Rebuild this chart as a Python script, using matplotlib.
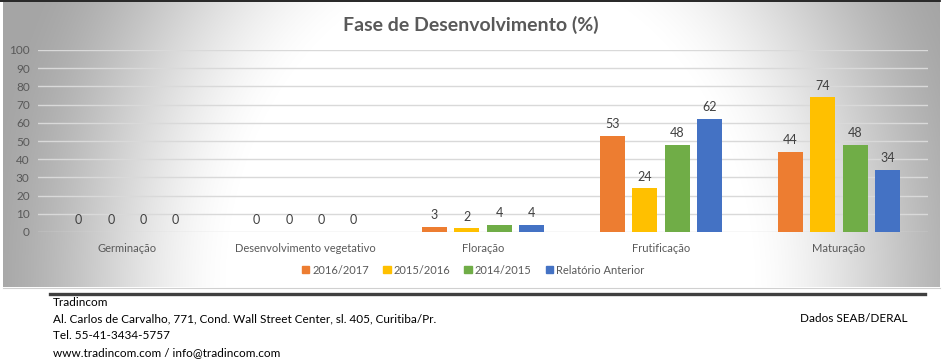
import numpy as np
import matplotlib
matplotlib.use("Agg")
from matplotlib import pyplot as plt
from matplotlib.lines import Line2D

plt.rcParams['font.family'] = ['Lato', 'DejaVu Sans']

categories = ["Germinação", "Desenvolvimento vegetativo", "Floração",
              "Frutificação", "Maturação"]
series_names = ["2016/2017", "2015/2016", "2014/2015", "Relatório Anterior"]
values_1617 = [0, 0, 3, 53, 44]
values_1516 = [0, 0, 2, 24, 74]
values_1415 = [0, 0, 4, 48, 48]
values_anterior = [0, 0, 4, 62, 34]
colors = ["#ED7D31", "#FFC000", "#70AD47", "#4472C4"]
yticks = [0, 10, 20, 30, 40, 50, 60, 70, 80, 90, 100]

W, H = 952, 364
fig = plt.figure(figsize=(W / 100, H / 100), dpi=100)
fig.patch.set_facecolor("white")


def px(x0, y0, x1, y1):
    # pixel box (top-left origin) -> figure fraction rect
    return [x0 / W, 1 - y1 / H, (x1 - x0) / W, (y1 - y0) / H]


# gradient panel behind the chart (row 0 = top)
bg = fig.add_axes(px(3, 2, 940, 287), zorder=0)
gx, gy = np.meshgrid(np.arange(3, 940), np.arange(2, 287))
d = np.sqrt(((gx - 490) / 265.0) ** 2 + ((gy - 287) / 324.0) ** 2)
t = np.clip((d - 1.0) / 0.9, 0, 1)
shade = 1 - 0.35 * (0.6 * t * t * (3 - 2 * t) + 0.4 * t)
bg.imshow(np.dstack([shade] * 3), aspect="auto", origin="upper")
bg.set_axis_off()

# top border line
fig.add_artist(Line2D([0, 940 / W], [1 - 1 / H, 1 - 1 / H], color="black", lw=1.2))
fig.add_artist(Line2D([3 / W, 940 / W], [1 - 287.5 / H, 1 - 287.5 / H],
                      color="#D0D0D0", lw=0.8))

ax = fig.add_axes(px(38, 50, 928, 232), zorder=1)
ax.patch.set_alpha(0)

all_series = [values_1617, values_1516, values_1415, values_anterior]
x = np.arange(len(categories))
pitch = 0.1815
width = 0.14
for i, (name, vals, c) in enumerate(zip(series_names, all_series, colors)):
    pos = x + (i - 1.5) * pitch
    bars = ax.bar(pos, vals, width=width, color=c, label=name, zorder=3)
    for b, v in zip(bars, vals):
        ax.annotate(str(v), (b.get_x() + b.get_width() / 2, v),
                    xytext=(0, 8.5), textcoords="offset points",
                    ha="center", va="center", fontsize=9, color="#404040")

ax.set_xlim(-0.5, len(categories) - 0.5)
ax.set_ylim(0, 100)
ax.set_yticks(yticks)
ax.set_xticks(x)
ax.set_xticklabels(categories)
ax.yaxis.grid(True, color="#D9D9D9", lw=1)
ax.set_axisbelow(True)
for s in ax.spines.values():
    s.set_visible(False)
ax.tick_params(axis="both", length=0, colors="#595959", labelsize=8)
ax.tick_params(axis="y", labelsize=8.5, pad=6)
ax.tick_params(axis="x", pad=8)

fig.text(471 / W, 1 - 25 / H, "Fase de Desenvolvimento (%)", ha="center",
         va="center", fontsize=14, fontweight="bold", color="#595959")

handles = [plt.Rectangle((0, 0), 1, 1, color=c) for c in colors]
fig.legend(handles, series_names, loc="center", bbox_to_anchor=(473 / W, 1 - 270 / H),
           ncol=4, frameon=False, fontsize=8, handlelength=0.65, handleheight=0.65,
           handletextpad=0.25, columnspacing=1.3, labelcolor="#595959")

# footer
fig.add_artist(Line2D([50 / W, 925 / W], [1 - 294 / H, 1 - 294 / H],
                      color="#404040", lw=2.4))
footer = ["Tradincom",
          "Al. Carlos de Carvalho, 771, Cond. Wall Street Center, sl. 405, Curitiba/Pr.",
          "Tel. 55-41-3434-5757",
          "www.tradincom.com / info@tradincom.com"]
for k, line in enumerate(footer):
    fig.text(53 / W, 1 - (302.5 + 16.7 * k) / H, line, ha="left", va="center",
             fontsize=8.5, color="black")
fig.text(907 / W, 1 - 319 / H, "Dados SEAB/DERAL", ha="right", va="center",
         fontsize=8.5, color="black")

fig.savefig("out.png", dpi=100)
